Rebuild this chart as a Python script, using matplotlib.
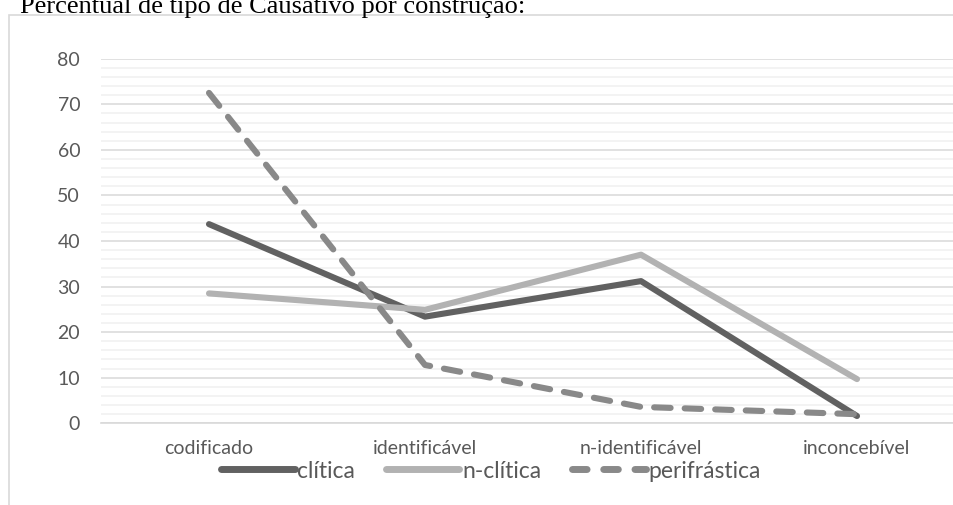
import matplotlib
matplotlib.use("Agg")
import matplotlib.pyplot as plt
from matplotlib.patches import Rectangle
from matplotlib.ticker import MultipleLocator

# data
categorias = ["codificado", "identificável", "n-identificável", "inconcebível"]
clitica = [43.7, 23.4, 31.2, 1.6]
n_clitica = [28.5, 24.9, 37.0, 9.7]
perifrastica = [72.5, 12.8, 3.6, 2.0]

W, H = 954, 505
fig = plt.figure(figsize=(W / 100, H / 100), dpi=100)

# chart frame (cut off at the right and bottom like in the reference)
fig.patches.append(Rectangle((9 / W, -0.1), 1.1, 1 - 15 / H + 0.1,
                             transform=fig.transFigure, fill=False,
                             edgecolor="#d9d9d9", lw=1.2))

fig.text(20 / W, 1 - 13 / H, "Percentual de tipo de Causativo por construção:",
         family="Liberation Serif", fontsize=19, color="black",
         ha="left", va="baseline")

ax = fig.add_axes([101 / W, 1 - 423.3 / H, 864 / W, 364.6 / H])
x = range(len(categorias))

lw = 4.4
ax.plot(x, clitica, color="#616161", lw=lw, solid_capstyle="round",
        solid_joinstyle="round", label="clítica")
ax.plot(x, n_clitica, color="#b2b2b2", lw=lw, solid_capstyle="round",
        solid_joinstyle="round", label="n-clítica")
ax.plot(x, perifrastica, color="#898989", lw=lw, dashes=(2.7, 2.3),
        dash_capstyle="round", dash_joinstyle="round", label="perifrástica")

ax.set_xlim(-0.5, 3.5)
ax.set_ylim(0, 80)
ax.yaxis.set_major_locator(MultipleLocator(10))
ax.yaxis.set_minor_locator(MultipleLocator(2))
ax.grid(which="major", axis="y", color="#d9d9d9", lw=1.1)
ax.grid(which="minor", axis="y", color="#f0f0f0", lw=1.1)
ax.set_axisbelow(True)

for s in ["top", "left", "right"]:
    ax.spines[s].set_visible(False)
ax.spines["bottom"].set_color("#d9d9d9")
ax.spines["bottom"].set_linewidth(1.2)

ax.set_xticks(list(x))
ax.set_xticklabels(categorias)
ax.tick_params(axis="both", which="both", length=0, labelsize=14,
               labelcolor="#595959")
ax.tick_params(axis="y", pad=15)
ax.tick_params(axis="x", pad=12)
for t in ax.get_xticklabels() + ax.get_yticklabels():
    t.set_family("Lato")

leg = fig.legend(loc="center", bbox_to_anchor=(491 / W, 1 - 471 / H), ncol=3,
                 frameon=False, handlelength=3.2, handletextpad=0.12,
                 columnspacing=1.35, prop={"family": "Lato", "size": 16.5})
for t in leg.get_texts():
    t.set_color("#595959")
for ln in leg.get_lines():
    ln.set_linewidth(5)
    ln.set_solid_capstyle("round")
    ln.set_dash_capstyle("round")
leg.get_lines()[2].set_dashes((2.1, 2.4))

fig.savefig("out.png", dpi=100)
